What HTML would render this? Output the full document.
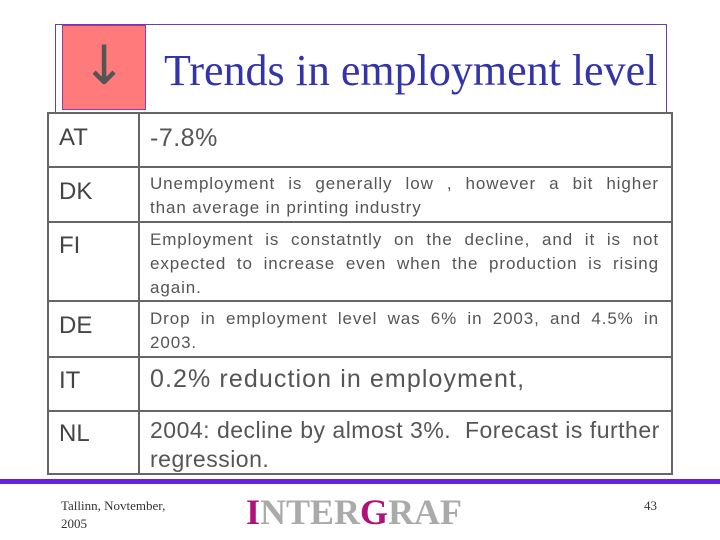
<!DOCTYPE html>
<html><head><meta charset="utf-8"><style>
body{margin:0;width:720px;height:540px;background:#fff;position:relative;overflow:hidden;font-family:"Liberation Sans",sans-serif}
.a{position:absolute}
.k{position:absolute;left:10px;font-size:24px;color:#444}
.v{position:absolute;left:101px;right:12px;color:#555}
.s{font-size:17px;line-height:24px}
.s span{display:block;text-align:justify;text-align-last:justify;white-space:nowrap;letter-spacing:0.9px}
.s span.l{text-align-last:left}
.b{font-size:23px;line-height:29px}
.r{position:absolute;left:0;right:0;border-top:2px solid #666}
</style></head><body>
<div class="a" style="left:55px;top:24px;width:610px;height:88px;border:1px solid #6a3db8"></div>
<div class="a" style="left:62px;top:25px;width:82px;height:83px;background:#ff7a7a;border:1px solid #9a3a9a;color:#555;font-size:54px;text-align:center;line-height:80px;font-family:'DejaVu Sans',sans-serif">↓</div>
<div class="a" style="left:164px;top:45px;font-family:'Liberation Serif',serif;font-size:44px;color:#3333aa;white-space:nowrap">Trends in employment level</div>
<div class="a" style="left:47px;top:112px;width:622px;height:359px;border:2px solid #666">
<div class="a" style="left:89px;top:0;bottom:0;border-left:2px solid #666"></div>
<div class="r" style="top:52px"></div><div class="r" style="top:107px"></div><div class="r" style="top:186px"></div><div class="r" style="top:242px"></div><div class="r" style="top:296px"></div>
<div class="k" style="top:10px">AT</div>
<div class="v b" style="top:10px;font-size:25px;letter-spacing:0.5px">-7.8%</div>
<div class="k" style="top:64px">DK</div>
<div class="v s" style="top:58px"><span>Unemployment is generally low , however a bit higher</span><span class="l">than average in printing industry</span></div>
<div class="k" style="top:118px">FI</div>
<div class="v s" style="top:114px"><span>Employment is constatntly on the decline, and it is not</span><span>expected to increase even when the production is rising</span><span class="l">again.</span></div>
<div class="k" style="top:198px">DE</div>
<div class="v s" style="top:193px"><span>Drop in employment level was 6% in 2003, and 4.5% in</span><span class="l">2003.</span></div>
<div class="k" style="top:253px">IT</div>
<div class="v b" style="top:251px;font-size:25px;letter-spacing:1.1px">0.2% reduction in employment,</div>
<div class="k" style="top:306px">NL</div>
<div class="v b" style="top:302px;font-size:23px;letter-spacing:0.5px;white-space:nowrap">2004: decline by almost 3%.&nbsp; Forecast is further<br>regression.</div>
</div>
<div class="a" style="left:0;top:479px;width:720px;height:5px;background:#6a1fd8"></div>
<div class="a" style="left:61px;top:497px;font-family:'Liberation Serif',serif;font-size:13px;line-height:18px;color:#333">Tallinn, Novtember,<br>2005</div>
<div class="a" style="left:246px;top:491px;font-family:'Liberation Serif',serif;font-weight:bold;font-size:36px;color:#aaa"><span style="color:#b0107a">I</span>NTER<span style="color:#b0107a">G</span>RAF</div>
<div class="a" style="left:644px;top:498px;font-family:'Liberation Serif',serif;font-size:13px;color:#333">43</div>
</body></html>
